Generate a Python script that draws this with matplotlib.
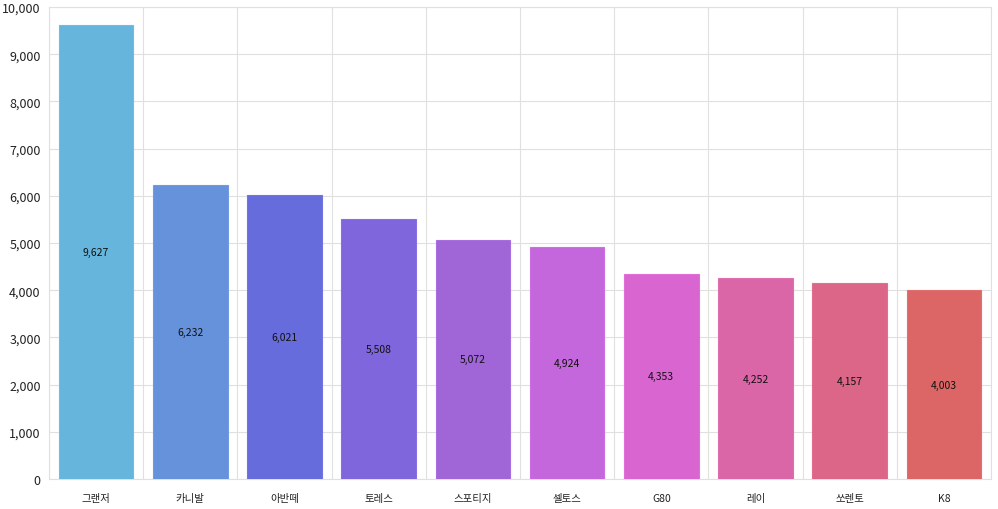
import matplotlib
matplotlib.use("Agg")
import matplotlib.pyplot as plt
import numpy as np

categories = ["그랜저", "카니발", "아반떼", "토레스", "스포티지", "셀토스", "G80", "레이", "쏘렌토", "K8"]
values = [9627, 6232, 6021, 5508, 5072, 4924, 4353, 4252, 4157, 4003]
colors = ["#66b5dc", "#6692dc", "#676cdc", "#8066dc", "#a066d8", "#c466dc",
          "#d966d0", "#da66a8", "#dc6688", "#dc6666"]
edge_colors = ["#6fbde2", "#6f9be2", "#7075e2", "#896fe2", "#a96fde", "#cc6fe2",
               "#e06fd8", "#e06fb0", "#e26f90", "#e26f6f"]
yticks = [0, 1000, 2000, 3000, 4000, 5000, 6000, 7000, 8000, 9000, 10000]

plt.rcParams['font.family'] = ['Noto Sans CJK KR', 'DejaVu Sans']

fig = plt.figure(figsize=(9.98, 5.10), dpi=100)
ax = fig.add_axes([49/998, 30/510, (991-49)/998, (480-8)/510])

x = np.arange(len(categories))
ax.bar(x, values, width=0.79, color=colors, edgecolor=edge_colors, linewidth=0.8, zorder=3)
for xi, v in zip(x, values):
    ax.text(xi, v/2, f"{v:,}", ha='center', va='center', fontsize=7.5, color='#111111', zorder=4)

ax.set_xlim(-0.5, len(categories)-0.5)
ax.set_ylim(0, 10000)
ax.set_yticks(yticks)
ax.set_yticklabels([f"{t:,}" for t in yticks], fontsize=9, color='#222222')
ax.set_xticks(x)
ax.set_xticklabels(categories, fontsize=7.5, color='#222222')
ax.tick_params(axis='x', length=0, pad=10)
ax.tick_params(axis='y', length=0, pad=6)

ax.set_xticks(np.arange(-0.5, len(categories), 1), minor=True)
ax.grid(axis='x', which='minor', color='#e0e0e0', linewidth=0.8, zorder=0)
ax.grid(axis='y', which='major', color='#e0e0e0', linewidth=0.8, zorder=0)
ax.tick_params(axis='x', which='minor', length=0)
for s in ax.spines.values():
    s.set_color('#e0e0e0')
    s.set_linewidth(0.8)

fig.savefig("out.png", dpi=100)
